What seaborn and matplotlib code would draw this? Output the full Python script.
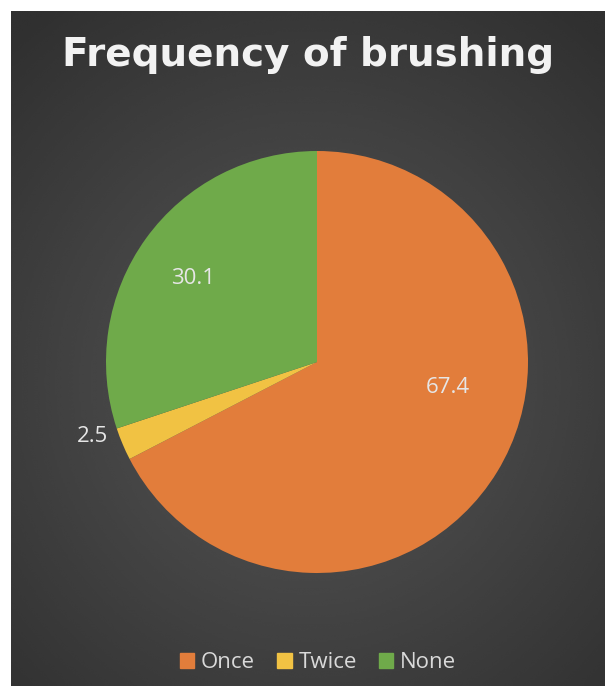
import numpy as np
import matplotlib
matplotlib.use("Agg")
import matplotlib.pyplot as plt
import seaborn as sns

categories = ["Once", "Twice", "None"]
values = [67.4, 2.5, 30.1]
labels = ["67.4", "2.5", "30.1"]
title = "Frequency of brushing"

sns.set_theme(style="white")
plt.rcParams['font.family'] = ['Open Sans', 'DejaVu Sans']

colors = sns.color_palette(["#E27D3B", "#F1C243", "#6FAA4A"])

W, H = 605, 686
fig = plt.figure(figsize=(W / 100, H / 100), dpi=100, facecolor="white")

# dark panel with radial gradient
bg = fig.add_axes([11 / W, 0, (W - 11) / W, (H - 11) / H])
yy, xx = np.mgrid[0:1:300j, 0:1:300j]
r = np.sqrt((xx - 0.5) ** 2 + ((yy - 0.55) * 1.1) ** 2)
shade = np.clip(0.34 - 0.2 * r, 0.19, 0.35)
bg.imshow(shade, cmap="gray", vmin=0, vmax=1, extent=[0, 1, 0, 1],
          aspect="auto", origin="upper", interpolation="bicubic")
bg.set_axis_off()

# pie
R = 211
cx, cy = 317, 362
lim = 1.2
size = 2 * lim * R
ax = fig.add_axes([(cx - size / 2) / W, (H - cy - size / 2) / H, size / W, size / H])
wedges, _ = ax.pie(values, colors=colors, startangle=90, counterclock=False,
                   wedgeprops=dict(linewidth=0))
ax.set_xlim(-lim, lim)
ax.set_ylim(-lim, lim)
ax.set_aspect("equal")
ax.set_axis_off()

# data labels (polar placement: angle in degrees, distance as fraction of radius)
label_pos = [(-11, 0.63), (-161.6, 1.12), (146, 0.71)]
for txt, (ang, d) in zip(labels, label_pos):
    a = np.deg2rad(ang)
    ax.text(d * np.cos(a), d * np.sin(a), txt, ha="center", va="center",
            fontsize=16, color="#E6E6E6")

fig.text(308 / W, 1 - 55 / H, title, ha="center", va="center",
         fontsize=28, fontweight="bold", color="#F2F2F2",
         family=["DejaVu Sans"])

handles = [plt.Rectangle((0, 0), 1, 1, color=c) for c in colors]
leg = fig.legend(handles, categories, loc="center", bbox_to_anchor=(318 / W, 23 / H),
                 ncol=3, frameon=False, fontsize=16, handlelength=0.65, handleheight=0.65,
                 handletextpad=0.3, columnspacing=1.0)
for t in leg.get_texts():
    t.set_color("#D9D9D9")

fig.savefig("out.png", dpi=100, facecolor="white")
